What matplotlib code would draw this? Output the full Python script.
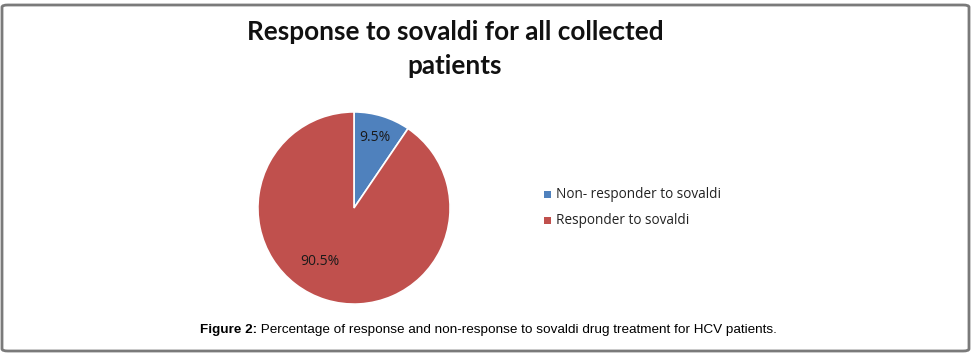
import matplotlib
matplotlib.use("Agg")
import matplotlib.pyplot as plt
from matplotlib.patches import FancyBboxPatch, Rectangle

labels = ["Non- responder to sovaldi", "Responder to sovaldi"]
values = [9.5, 90.5]
colors = ["#4F81BD", "#C0504D"]
title = "Response to sovaldi for all collected\npatients"
caption_bold = "Figure 2:"
caption_rest = " Percentage of response and non-response to sovaldi drug treatment for HCV patients."

W, H = 973, 357
fig = plt.figure(figsize=(W / 100, H / 100), dpi=100)
fig.patch.set_facecolor("white")

# outer rounded frame
frame = FancyBboxPatch((2 / W, 6 / H), (W - 6) / W, (H - 11) / H,
                       boxstyle="round,pad=0,rounding_size=0.006",
                       transform=fig.transFigure, fill=False,
                       edgecolor="#7a7a7a", linewidth=2)
fig.patches.append(frame)

# pie axes: center ~ (354, 208), radius ~ 98
r = 98
cx, cy = 354, 208
ax = fig.add_axes([(cx - r) / W, (H - cy - r) / H, 2 * r / W, 2 * r / H])
wedges, texts = ax.pie(values, colors=colors, startangle=90, counterclock=False,
                       wedgeprops=dict(edgecolor="white", linewidth=1.2))
ax.set_aspect("equal")
ax.set_xlim(-1.02, 1.02)
ax.set_ylim(-1.02, 1.02)

ax.text(0.22, 0.73, "9.5%", ha="center", va="center", fontsize=10,
        family="Open Sans", color="#1a1a1a")
ax.text(-0.35, -0.56, "90.5%", ha="center", va="center", fontsize=10,
        family="Open Sans", color="#1a1a1a")

# legend
ly = [194, 220]
for i in range(2):
    fig.patches.append(Rectangle((544 / W, (H - ly[i] - 3.5) / H), 7 / W, 7 / H,
                                 transform=fig.transFigure, facecolor=colors[i],
                                 edgecolor="none"))
    fig.text(556 / W, (H - ly[i]) / H, labels[i], ha="left", va="center",
             fontsize=9.8, family="Open Sans", color="#222222")

# title
fig.text(455 / W, (H - 49) / H, title, ha="center", va="center", fontsize=18.8,
         fontweight="bold", family="Lato", color="#111111",
         linespacing=1.45)

# caption
t1 = fig.text(200 / W, (H - 330) / H, caption_bold, ha="left", va="center",
              fontsize=9.7, fontweight="bold", family="Liberation Sans")
fig.canvas.draw()
bb = t1.get_window_extent()
fig.text(bb.x1 / W, (H - 330) / H, caption_rest, ha="left", va="center",
         fontsize=9.7, family="Liberation Sans")

fig.savefig("out.png", dpi=100)
